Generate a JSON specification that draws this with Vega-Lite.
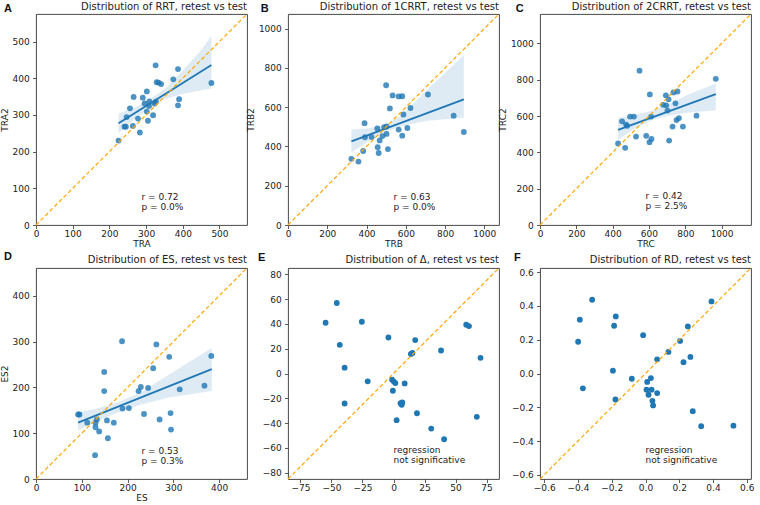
{
  "$schema": "https://vega.github.io/schema/vega-lite/v6.json",
  "background": "white",
  "padding": {"left": 0, "top": 1, "right": 5, "bottom": 5},
  "config": {
    "view": {"stroke": "#333333", "strokeWidth": 0.9},
    "font": "DejaVu Sans",
    "axis": {"grid": false, "domain": false, "tickSize": 3.5, "tickColor": "#333333", "tickWidth": 0.8,
      "labelFont": "DejaVu Sans", "labelFontSize": 9, "labelColor": "#222222",
      "titleFont": "DejaVu Sans", "titleFontSize": 9, "titleFontWeight": "normal", "titleColor": "#222222",
      "labelFlush": false, "labelOverlap": false},
    "axisX": {"labelPadding": 1, "titlePadding": 0.5},
    "axisY": {"labelPadding": 3.2, "titlePadding": 2.5}
  },
  "datasets": {
    "ptsA": [{"x":225,"y":230},{"x":241,"y":268},{"x":245,"y":268},{"x":247,"y":294},{"x":256,"y":318},{"x":264,"y":270},{"x":266,"y":349},{"x":278,"y":290},{"x":283,"y":252},{"x":291,"y":347},{"x":296,"y":331},{"x":302,"y":364},{"x":305,"y":284},{"x":302,"y":309},{"x":308,"y":324},{"x":309,"y":337},{"x":319,"y":299},{"x":323,"y":331},{"x":326,"y":435},{"x":329,"y":389},{"x":334,"y":388},{"x":341,"y":384},{"x":327,"y":336},{"x":374,"y":397},{"x":387,"y":425},{"x":390,"y":343},{"x":387,"y":326},{"x":478,"y":387}],
    "bandA": [{"x":225,"lo":250,"hi":303},{"x":270,"lo":290,"hi":320},{"x":315,"lo":322,"hi":346},{"x":350,"lo":343,"hi":370},{"x":396,"lo":356,"hi":417},{"x":450,"lo":367,"hi":476},{"x":478,"lo":372,"hi":515}],
    "lineA": [{"x":225,"y":277},{"x":478,"y":436}],
    "ptsB": [{"x":323,"y":337},{"x":359,"y":323},{"x":383,"y":377},{"x":390,"y":519},{"x":392,"y":447},{"x":426,"y":448},{"x":455,"y":492},{"x":457,"y":396},{"x":462,"y":367},{"x":467,"y":431},{"x":481,"y":453},{"x":490,"y":499},{"x":500,"y":712},{"x":502,"y":502},{"x":502,"y":464},{"x":509,"y":387},{"x":519,"y":594},{"x":533,"y":660},{"x":564,"y":655},{"x":564,"y":486},{"x":582,"y":656},{"x":582,"y":455},{"x":588,"y":563},{"x":608,"y":494},{"x":624,"y":596},{"x":713,"y":665},{"x":844,"y":557},{"x":896,"y":474}],
    "bandB": [{"x":323,"lo":369,"hi":487},{"x":400,"lo":420,"hi":492},{"x":493,"lo":474,"hi":508},{"x":580,"lo":505,"hi":560},{"x":700,"lo":530,"hi":680},{"x":896,"lo":547,"hi":866}],
    "lineB": [{"x":323,"y":426},{"x":896,"y":640}],
    "ptsC": [{"x":430,"y":449},{"x":452,"y":571},{"x":469,"y":425},{"x":474,"y":553},{"x":480,"y":546},{"x":496,"y":597},{"x":517,"y":597},{"x":529,"y":487},{"x":548,"y":850},{"x":585,"y":491},{"x":603,"y":456},{"x":605,"y":719},{"x":612,"y":597},{"x":614,"y":474},{"x":678,"y":662},{"x":693,"y":714},{"x":695,"y":659},{"x":702,"y":630},{"x":708,"y":692},{"x":711,"y":465},{"x":730,"y":542},{"x":735,"y":730},{"x":746,"y":670},{"x":757,"y":735},{"x":752,"y":578},{"x":765,"y":589},{"x":787,"y":542},{"x":862,"y":602},{"x":968,"y":805}],
    "bandC": [{"x":430,"lo":469,"hi":590},{"x":520,"lo":530,"hi":605},{"x":620,"lo":580,"hi":630},{"x":720,"lo":605,"hi":670},{"x":820,"lo":620,"hi":720},{"x":968,"lo":630,"hi":779}],
    "lineC": [{"x":430,"y":524},{"x":968,"y":721}],
    "ptsD": [{"x":92,"y":141},{"x":95,"y":141},{"x":112,"y":123},{"x":130,"y":123},{"x":130,"y":113},{"x":133,"y":130},{"x":129,"y":52},{"x":138,"y":104},{"x":149,"y":234},{"x":149,"y":192},{"x":155,"y":128},{"x":157,"y":89},{"x":170,"y":123},{"x":188,"y":301},{"x":189,"y":154},{"x":203,"y":155},{"x":224,"y":192},{"x":229,"y":201},{"x":236,"y":142},{"x":245,"y":199},{"x":256,"y":242},{"x":263,"y":294},{"x":270,"y":130},{"x":291,"y":267},{"x":294,"y":144},{"x":295,"y":108},{"x":314,"y":196},{"x":368,"y":204},{"x":383,"y":269}],
    "bandD": [{"x":92,"lo":106,"hi":146},{"x":130,"lo":125,"hi":153},{"x":180,"lo":146,"hi":168},{"x":230,"lo":163,"hi":190},{"x":290,"lo":178,"hi":228},{"x":384,"lo":192,"hi":286}],
    "lineD": [{"x":92,"y":123},{"x":384,"y":240}],
    "ptsE": [{"x":-54.7,"y":40.9},{"x":-45.7,"y":56.8},{"x":-43.3,"y":23.1},{"x":-39.4,"y":4.7},{"x":-39.4,"y":-24.2},{"x":-25.5,"y":41.7},{"x":-20.8,"y":-6.3},{"x":-4.1,"y":29.0},{"x":-1.1,"y":-5.0},{"x":-0.5,"y":-13.9},{"x":0.3,"y":-6.5},{"x":1.5,"y":-7.7},{"x":9.0,"y":-8.0},{"x":2.5,"y":-37.6},{"x":5.7,"y":-23.9},{"x":6.6,"y":-25.2},{"x":7.1,"y":-23.3},{"x":14.0,"y":15.8},{"x":15.3,"y":16.6},{"x":17.5,"y":26.9},{"x":18.9,"y":-32.0},{"x":30.4,"y":-44.4},{"x":38.3,"y":18.5},{"x":40.8,"y":-53.0},{"x":58.6,"y":39.3},{"x":60.8,"y":38.2},{"x":70.1,"y":12.6},{"x":67.1,"y":-34.9}],
    "ptsF": [{"x":-0.399,"y":0.188},{"x":-0.389,"y":0.319},{"x":-0.371,"y":-0.088},{"x":-0.316,"y":0.437},{"x":-0.193,"y":0.017},{"x":-0.186,"y":0.283},{"x":-0.176,"y":0.338},{"x":-0.178,"y":-0.154},{"x":-0.081,"y":-0.031},{"x":-0.014,"y":0.227},{"x":0.006,"y":-0.096},{"x":0.010,"y":-0.050},{"x":0.018,"y":-0.126},{"x":0.032,"y":-0.027},{"x":0.036,"y":-0.096},{"x":0.041,"y":-0.162},{"x":0.045,"y":-0.189},{"x":0.069,"y":0.084},{"x":0.069,"y":-0.116},{"x":0.136,"y":0.128},{"x":0.205,"y":0.193},{"x":0.225,"y":0.067},{"x":0.251,"y":0.279},{"x":0.266,"y":0.098},{"x":0.280,"y":-0.223},{"x":0.330,"y":-0.312},{"x":0.391,"y":0.427},{"x":0.521,"y":-0.309}]
  },
  "columns": 3,
  "spacing": {"row": 43, "column": 41},
  "bounds": "flush",
  "concat": [
    {
      "width": 211, "height": 211,
      "layer": [
        {"data": {"name": "ptsA"}, "mark": {"type": "circle", "size": 34, "opacity": 0.8, "color": "#1f77b4"},
         "encoding": {
           "x": {"field": "x", "type": "quantitative", "scale": {"domain": [0, 575], "nice": false, "zero": false}, "axis": {"values": [0,100,200,300,400,500], "tickCount": 20, "format": "d", "labelOverlap": false, "title": "TRA"}},
           "y": {"field": "y", "type": "quantitative", "scale": {"domain": [0, 575], "nice": false, "zero": false}, "axis": {"values": [0,100,200,300,400,500], "tickCount": 20, "format": "d", "labelOverlap": false, "title": "TRA2"}}}},
        {"data": {"name": "bandA"}, "mark": {"type": "area", "color": "#1f77b4", "opacity": 0.15},
         "encoding": {"x": {"field": "x", "type": "quantitative"}, "y": {"field": "lo", "type": "quantitative"}, "y2": {"field": "hi"}}},
        {"data": {"name": "lineA"}, "mark": {"type": "line", "color": "#1f77b4", "strokeWidth": 1.8},
         "encoding": {"x": {"field": "x", "type": "quantitative"}, "y": {"field": "y", "type": "quantitative"}}},
        {"data": {"values": [{}]}, "mark": {"type": "rule", "color": "#FFA500", "strokeDash": [4, 2.5], "strokeWidth": 1.2},
         "encoding": {"x": {"datum": 0}, "y": {"datum": 0}, "x2": {"datum": 575}, "y2": {"datum": 575}}},
        {"data": {"values": [{}]}, "mark": {"type": "text", "align": "left", "baseline": "middle", "fontSize": 9, "lineHeight": 10, "color": "#222222"},
         "encoding": {"x": {"datum": 287.5}, "y": {"datum": 77.6}, "text": {"value": ["r = 0.72", "p = 0.0%"]}}},
        {"data": {"values": [{}]}, "mark": {"type": "text", "align": "right", "baseline": "alphabetic", "fontSize": 10, "color": "#222222"},
         "encoding": {"x": {"datum": 575}, "y": {"datum": 585.9}, "text": {"value": "Distribution of RRT, retest vs test"}}},
        {"data": {"values": [{}]}, "mark": {"type": "text", "align": "left", "baseline": "alphabetic", "fontSize": 11, "fontWeight": "bold", "font": "Liberation Sans", "color": "#111111"},
         "encoding": {"x": {"datum": -87}, "y": {"datum": 581.3}, "text": {"value": "A"}}}
      ]
    },
    {
      "width": 211, "height": 211,
      "layer": [
        {"data": {"name": "ptsB"}, "mark": {"type": "circle", "size": 34, "opacity": 0.8, "color": "#1f77b4"},
         "encoding": {
           "x": {"field": "x", "type": "quantitative", "scale": {"domain": [0, 1075], "nice": false, "zero": false}, "axis": {"values": [0,200,400,600,800,1000], "tickCount": 20, "format": "d", "labelOverlap": false, "title": "TRB"}},
           "y": {"field": "y", "type": "quantitative", "scale": {"domain": [0, 1075], "nice": false, "zero": false}, "axis": {"values": [0,200,400,600,800,1000], "tickCount": 20, "format": "d", "labelOverlap": false, "title": "TRB2"}}}},
        {"data": {"name": "bandB"}, "mark": {"type": "area", "color": "#1f77b4", "opacity": 0.15},
         "encoding": {"x": {"field": "x", "type": "quantitative"}, "y": {"field": "lo", "type": "quantitative"}, "y2": {"field": "hi"}}},
        {"data": {"name": "lineB"}, "mark": {"type": "line", "color": "#1f77b4", "strokeWidth": 1.8},
         "encoding": {"x": {"field": "x", "type": "quantitative"}, "y": {"field": "y", "type": "quantitative"}}},
        {"data": {"values": [{}]}, "mark": {"type": "rule", "color": "#FFA500", "strokeDash": [4, 2.5], "strokeWidth": 1.2},
         "encoding": {"x": {"datum": 0}, "y": {"datum": 0}, "x2": {"datum": 1075}, "y2": {"datum": 1075}}},
        {"data": {"values": [{}]}, "mark": {"type": "text", "align": "left", "baseline": "middle", "fontSize": 9, "lineHeight": 10, "color": "#222222"},
         "encoding": {"x": {"datum": 537.5}, "y": {"datum": 145}, "text": {"value": ["r = 0.63", "p = 0.0%"]}}},
        {"data": {"values": [{}]}, "mark": {"type": "text", "align": "right", "baseline": "alphabetic", "fontSize": 10, "color": "#222222"},
         "encoding": {"x": {"datum": 1075}, "y": {"datum": 1095.4}, "text": {"value": "Distribution of 1CRRT, retest vs test"}}},
        {"data": {"values": [{}]}, "mark": {"type": "text", "align": "left", "baseline": "alphabetic", "fontSize": 11, "fontWeight": "bold", "font": "Liberation Sans", "color": "#111111"},
         "encoding": {"x": {"datum": -139}, "y": {"datum": 1086.7}, "text": {"value": "B"}}}
      ]
    },
    {
      "width": 211, "height": 211,
      "layer": [
        {"data": {"name": "ptsC"}, "mark": {"type": "circle", "size": 34, "opacity": 0.8, "color": "#1f77b4"},
         "encoding": {
           "x": {"field": "x", "type": "quantitative", "scale": {"domain": [0, 1162], "nice": false, "zero": false}, "axis": {"values": [0,200,400,600,800,1000], "tickCount": 20, "format": "d", "labelOverlap": false, "title": "TRC"}},
           "y": {"field": "y", "type": "quantitative", "scale": {"domain": [0, 1162], "nice": false, "zero": false}, "axis": {"values": [0,200,400,600,800,1000], "tickCount": 20, "format": "d", "labelOverlap": false, "title": "TRC2"}}}},
        {"data": {"name": "bandC"}, "mark": {"type": "area", "color": "#1f77b4", "opacity": 0.15},
         "encoding": {"x": {"field": "x", "type": "quantitative"}, "y": {"field": "lo", "type": "quantitative"}, "y2": {"field": "hi"}}},
        {"data": {"name": "lineC"}, "mark": {"type": "line", "color": "#1f77b4", "strokeWidth": 1.8},
         "encoding": {"x": {"field": "x", "type": "quantitative"}, "y": {"field": "y", "type": "quantitative"}}},
        {"data": {"values": [{}]}, "mark": {"type": "rule", "color": "#FFA500", "strokeDash": [4, 2.5], "strokeWidth": 1.2},
         "encoding": {"x": {"datum": 0}, "y": {"datum": 0}, "x2": {"datum": 1162}, "y2": {"datum": 1162}}},
        {"data": {"values": [{}]}, "mark": {"type": "text", "align": "left", "baseline": "middle", "fontSize": 9, "lineHeight": 10, "color": "#222222"},
         "encoding": {"x": {"datum": 581}, "y": {"datum": 157}, "text": {"value": ["r = 0.42", "p = 2.5%"]}}},
        {"data": {"values": [{}]}, "mark": {"type": "text", "align": "right", "baseline": "alphabetic", "fontSize": 10, "color": "#222222"},
         "encoding": {"x": {"datum": 1162}, "y": {"datum": 1184}, "text": {"value": "Distribution of 2CRRT, retest vs test"}}},
        {"data": {"values": [{}]}, "mark": {"type": "text", "align": "left", "baseline": "alphabetic", "fontSize": 11, "fontWeight": "bold", "font": "Liberation Sans", "color": "#111111"},
         "encoding": {"x": {"datum": -134}, "y": {"datum": 1174.6}, "text": {"value": "C"}}}
      ]
    },
    {
      "width": 211, "height": 211,
      "layer": [
        {"data": {"name": "ptsD"}, "mark": {"type": "circle", "size": 34, "opacity": 0.8, "color": "#1f77b4"},
         "encoding": {
           "x": {"field": "x", "type": "quantitative", "scale": {"domain": [0, 461], "nice": false, "zero": false}, "axis": {"values": [0,100,200,300,400], "tickCount": 20, "format": "d", "labelOverlap": false, "title": "ES"}},
           "y": {"field": "y", "type": "quantitative", "scale": {"domain": [0, 461], "nice": false, "zero": false}, "axis": {"values": [0,100,200,300,400], "tickCount": 20, "format": "d", "labelOverlap": false, "title": "ES2"}}}},
        {"data": {"name": "bandD"}, "mark": {"type": "area", "color": "#1f77b4", "opacity": 0.15},
         "encoding": {"x": {"field": "x", "type": "quantitative"}, "y": {"field": "lo", "type": "quantitative"}, "y2": {"field": "hi"}}},
        {"data": {"name": "lineD"}, "mark": {"type": "line", "color": "#1f77b4", "strokeWidth": 1.8},
         "encoding": {"x": {"field": "x", "type": "quantitative"}, "y": {"field": "y", "type": "quantitative"}}},
        {"data": {"values": [{}]}, "mark": {"type": "rule", "color": "#FFA500", "strokeDash": [4, 2.5], "strokeWidth": 1.2},
         "encoding": {"x": {"datum": 0}, "y": {"datum": 0}, "x2": {"datum": 461}, "y2": {"datum": 461}}},
        {"data": {"values": [{}]}, "mark": {"type": "text", "align": "left", "baseline": "middle", "fontSize": 9, "lineHeight": 10, "color": "#222222"},
         "encoding": {"x": {"datum": 230.5}, "y": {"datum": 62.2}, "text": {"value": ["r = 0.53", "p = 0.3%"]}}},
        {"data": {"values": [{}]}, "mark": {"type": "text", "align": "right", "baseline": "alphabetic", "fontSize": 10, "color": "#222222"},
         "encoding": {"x": {"datum": 461}, "y": {"datum": 471.9}, "text": {"value": "Distribution of ES, retest vs test"}}},
        {"data": {"values": [{}]}, "mark": {"type": "text", "align": "left", "baseline": "alphabetic", "fontSize": 11, "fontWeight": "bold", "font": "Liberation Sans", "color": "#111111"},
         "encoding": {"x": {"datum": -70}, "y": {"datum": 477.4}, "text": {"value": "D"}}}
      ]
    },
    {
      "width": 211, "height": 211,
      "layer": [
        {"data": {"name": "ptsE"}, "mark": {"type": "circle", "size": 34, "opacity": 1, "color": "#1f77b4"},
         "encoding": {
           "x": {"field": "x", "type": "quantitative", "scale": {"domain": [-85, 85], "nice": false, "zero": false}, "axis": {"values": [-75,-50,-25,0,25,50,75], "tickCount": 20, "format": "d", "labelOverlap": false, "title": null}},
           "y": {"field": "y", "type": "quantitative", "scale": {"domain": [-85, 85], "nice": false, "zero": false}, "axis": {"values": [-80,-60,-40,-20,0,20,40,60,80], "tickCount": 20, "format": "d", "labelOverlap": false, "title": null}}}},
        {"data": {"values": [{}]}, "mark": {"type": "rule", "color": "#FFA500", "strokeDash": [4, 2.5], "strokeWidth": 1.2},
         "encoding": {"x": {"datum": -85}, "y": {"datum": -85}, "x2": {"datum": 85}, "y2": {"datum": 85}}},
        {"data": {"values": [{}]}, "mark": {"type": "text", "align": "left", "baseline": "middle", "fontSize": 9, "lineHeight": 10, "color": "#222222"},
         "encoding": {"x": {"datum": 0}, "y": {"datum": -61.7}, "text": {"value": ["regression", "\u00a0not significative"]}}},
        {"data": {"values": [{}]}, "mark": {"type": "text", "align": "right", "baseline": "alphabetic", "fontSize": 10, "color": "#222222"},
         "encoding": {"x": {"datum": 85}, "y": {"datum": 89}, "text": {"value": "Distribution of Δ, retest vs test"}}},
        {"data": {"values": [{}]}, "mark": {"type": "text", "align": "left", "baseline": "alphabetic", "fontSize": 11, "fontWeight": "bold", "font": "Liberation Sans", "color": "#111111"},
         "encoding": {"x": {"datum": -109.2}, "y": {"datum": 91}, "text": {"value": "E"}}}
      ]
    },
    {
      "width": 211, "height": 211,
      "layer": [
        {"data": {"name": "ptsF"}, "mark": {"type": "circle", "size": 34, "opacity": 1, "color": "#1f77b4"},
         "encoding": {
           "x": {"field": "x", "type": "quantitative", "scale": {"domain": [-0.625, 0.625], "nice": false, "zero": false}, "axis": {"values": [-0.6,-0.4,-0.2,0,0.2,0.4,0.6], "tickCount": 20, "format": ".1f", "labelOverlap": false, "title": null}},
           "y": {"field": "y", "type": "quantitative", "scale": {"domain": [-0.625, 0.625], "nice": false, "zero": false}, "axis": {"values": [-0.6,-0.4,-0.2,0,0.2,0.4,0.6], "tickCount": 20, "format": ".1f", "labelOverlap": false, "title": null}}}},
        {"data": {"values": [{}]}, "mark": {"type": "rule", "color": "#FFA500", "strokeDash": [4, 2.5], "strokeWidth": 1.2},
         "encoding": {"x": {"datum": -0.625}, "y": {"datum": -0.625}, "x2": {"datum": 0.625}, "y2": {"datum": 0.625}}},
        {"data": {"values": [{}]}, "mark": {"type": "text", "align": "left", "baseline": "middle", "fontSize": 9, "lineHeight": 10, "color": "#222222"},
         "encoding": {"x": {"datum": 0}, "y": {"datum": -0.454}, "text": {"value": ["regression", "\u00a0not significative"]}}},
        {"data": {"values": [{}]}, "mark": {"type": "text", "align": "right", "baseline": "alphabetic", "fontSize": 10, "color": "#222222"},
         "encoding": {"x": {"datum": 0.625}, "y": {"datum": 0.6546}, "text": {"value": "Distribution of RD, retest vs test"}}},
        {"data": {"values": [{}]}, "mark": {"type": "text", "align": "left", "baseline": "alphabetic", "fontSize": 11, "fontWeight": "bold", "font": "Liberation Sans", "color": "#111111"},
         "encoding": {"x": {"datum": -0.779}, "y": {"datum": 0.669}, "text": {"value": "F"}}}
      ]
    }
  ]
}
